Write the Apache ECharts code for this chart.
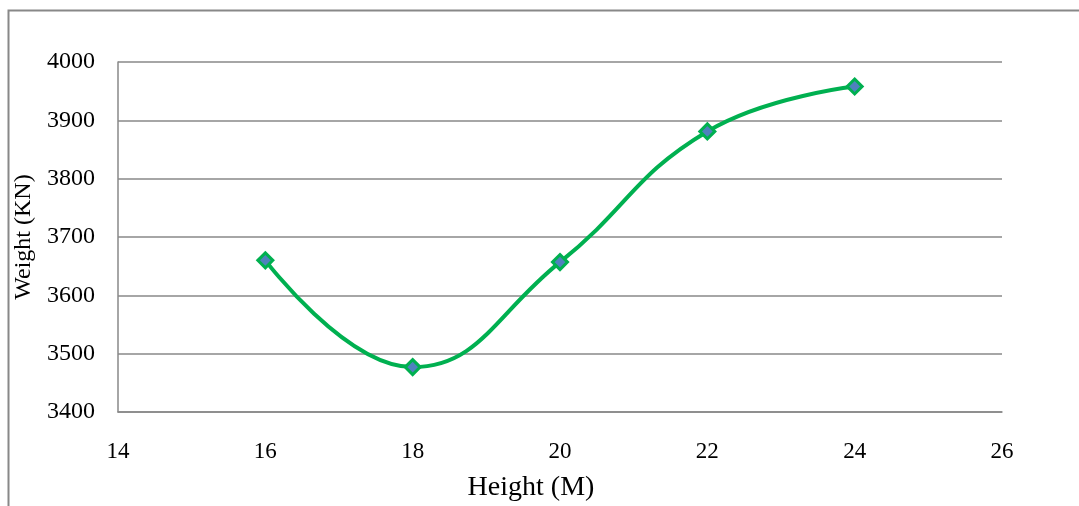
<!DOCTYPE html>
<html>
<head>
<meta charset="utf-8">
<script src="https://cdn.jsdelivr.net/npm/echarts@6/dist/echarts.min.js"></script>
<style>
html,body{margin:0;padding:0;background:#fff;}
#chart{width:1079px;height:506px;}
</style>
</head>
<body>
<div id="chart"></div>
<script>
const heights = [16, 18, 20, 22, 24];
const weights = [3660, 3477, 3657, 3881, 3958];
const xTicks = [14, 16, 18, 20, 22, 24, 26];
const yTicks = [3400, 3500, 3600, 3700, 3800, 3900, 4000];

const chart = echarts.init(document.getElementById('chart'), null, {renderer: 'canvas'});
const font = '"Liberation Serif", "Times New Roman", serif';
chart.setOption({
  animation: false,
  backgroundColor: '#fff',
  graphic: [{
    type: 'polyline',
    shape: {points: [[8.5, 520], [8.5, 10.5], [1090, 10.5]]},
    style: {stroke: '#888', lineWidth: 2, fill: null},
    silent: true
  }],
  grid: {left: 118, right: 77, top: 62, bottom: 94, containLabel: false, outerBoundsMode: 'none'},
  xAxis: {
    type: 'value',
    min: xTicks[0], max: xTicks[xTicks.length - 1], interval: 2,
    name: 'Height (M)', nameLocation: 'middle', nameGap: 62,
    nameTextStyle: {fontFamily: font, fontSize: 28, color: '#000', padding: [0, 58, 0, 0]},
    axisLine: {show: true, lineStyle: {color: '#888', width: 1.5}},
    axisTick: {show: false},
    splitLine: {show: false},
    axisLabel: {fontFamily: font, fontSize: 23, color: '#000', margin: 28,
      formatter: v => String(v)}
  },
  yAxis: {
    type: 'value',
    min: yTicks[0], max: yTicks[yTicks.length - 1], interval: 100,
    name: 'Weight (KN)', nameLocation: 'middle', nameGap: 79,
    nameTextStyle: {fontFamily: font, fontSize: 24, color: '#000'},
    axisLine: {show: true, lineStyle: {color: '#888', width: 1.5}},
    axisTick: {show: false},
    splitLine: {show: true, lineStyle: {color: '#888', width: 1.5}},
    axisLabel: {fontFamily: font, fontSize: 24, color: '#000', margin: 23,
      formatter: v => String(v)}
  },
  series: [{
    type: 'line',
    data: heights.map((h, i) => [h, weights[i]]),
    smooth: 0.45,
    symbol: 'diamond',
    symbolSize: 15,
    lineStyle: {color: '#00B050', width: 4},
    itemStyle: {color: '#4F81BD', borderColor: '#00B050', borderWidth: 3}
  }]
});
</script>
</body>
</html>
